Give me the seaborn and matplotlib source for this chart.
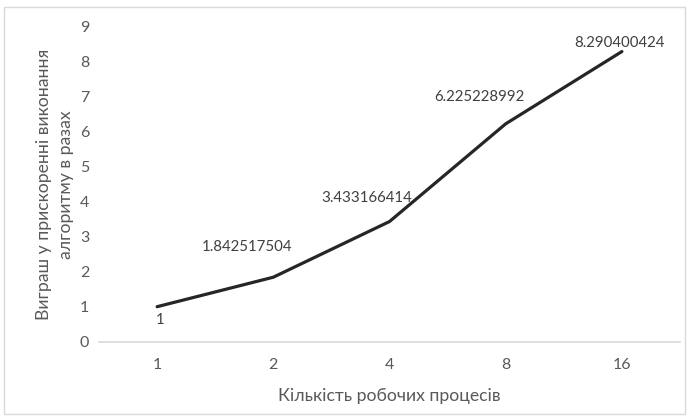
import matplotlib
matplotlib.use("Agg")
import matplotlib.pyplot as plt
import seaborn as sns
import pandas as pd
from matplotlib.patches import Rectangle

# Speedup of the algorithm versus number of worker processes
processes = ["1", "2", "4", "8", "16"]
speedup = [1.0, 1.842517504, 3.433166414, 6.225228992, 8.290400424]
speedup_labels = ["1", "1.842517504", "3.433166414", "6.225228992", "8.290400424"]
y_ticks = [0, 1, 2, 3, 4, 5, 6, 7, 8, 9]

sns.set_theme(style="white")
plt.rcParams["font.family"] = ["Lato", "DejaVu Sans"]

text_col = "#595959"
W, H = 689, 420
fig = plt.figure(figsize=(W / 100, H / 100), dpi=100)
ax = fig.add_axes([99 / W, 1 - 341.7 / H, (680 - 99) / W, (341.7 - 26.7) / H])

df = pd.DataFrame({"processes": processes, "speedup": speedup})
sns.lineplot(data=df, x="processes", y="speedup", sort=False,
             color="#262626", linewidth=2.3, ax=ax)

# data labels next to each point (pixel offsets from the point)
offsets = [(3, -13), (-26, 30), (-23, 24), (-26, 27), (-2, 9)]
for i, (val, lab) in enumerate(zip(speedup, speedup_labels)):
    ax.annotate(lab, (i, val), xytext=offsets[i], textcoords="offset pixels",
                ha="center", va="center", fontsize=10.8, color="#404040")

ax.set_xlim(-0.5, len(processes) - 0.5)
ax.set_ylim(0, 9)
ax.set_yticks(y_ticks)
ax.tick_params(axis="both", length=0, labelsize=11.5, labelcolor=text_col)
ax.tick_params(axis="y", pad=7)
ax.tick_params(axis="x", pad=12)

for s in ["top", "right", "left"]:
    ax.spines[s].set_visible(False)
ax.spines["bottom"].set_color("#d9d9d9")
ax.spines["bottom"].set_linewidth(1.2)

ax.set_xlabel("Кількість робочих процесів", fontsize=12.7, color=text_col, labelpad=11)
ax.set_ylabel("Виграш у прискоренні виконання\nалгоритму в разах", fontsize=12.7,
              color=text_col, labelpad=4, linespacing=1.45)

# chart area border
fig.patches.append(Rectangle((4 / W, 1 - 414 / H), (685 - 4) / W, (414 - 7) / H,
                             transform=fig.transFigure, fill=False,
                             edgecolor="#d9d9d9", linewidth=1))

fig.savefig("out.png", dpi=100)
